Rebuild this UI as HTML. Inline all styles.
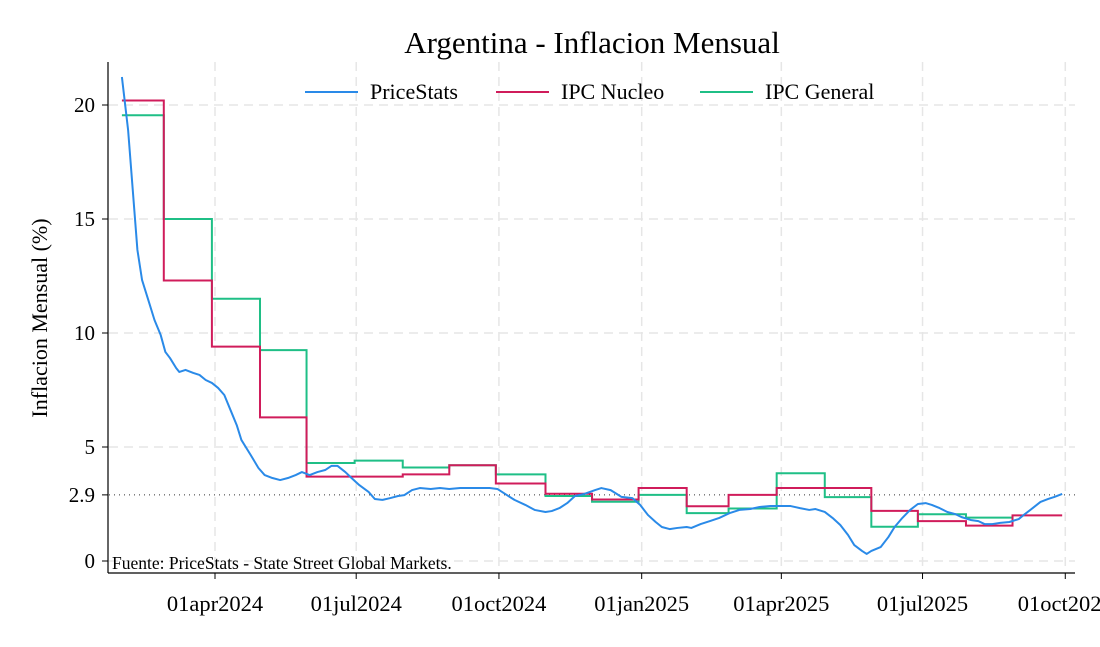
<!DOCTYPE html>
<html><head><meta charset="utf-8"><style>
body{margin:0;background:#fff;}
svg{display:block;font-family:"Liberation Serif",serif;}
</style></head><body>
<svg id="c" width="1100" height="647"></svg>
<script>
const priceDays=[-60,-56,-53,-50,-47,-43,-39,-35,-32,-29,-25,-23,-19,-14,-10,-6,-2,2,6,10,14,17,23,28,32,37,42,47,52,56,61,66,71,75,79,84,88,93,99,103,108,113,118,122,127,132,139,145,151,158,164,171,177,182,187,193,200,206,213,217,222,227,232,238,245,249,255,259,262,269,274,279,284,288,293,298,304,307,313,319,325,332,338,345,351,358,364,371,377,383,387,393,398,403,408,412,417,420,423,429,434,438,443,448,453,458,462,467,472,477,481,487,492,496,501,506,512,518,522,527,532,537,541,546];
const priceVals=[21.23,18.9,16.27,13.64,12.32,11.45,10.57,9.91,9.17,8.9,8.46,8.29,8.38,8.25,8.16,7.94,7.81,7.59,7.28,6.62,5.96,5.31,4.65,4.08,3.77,3.64,3.55,3.64,3.77,3.9,3.77,3.9,3.99,4.17,4.17,3.9,3.64,3.33,3.03,2.72,2.68,2.76,2.85,2.89,3.11,3.2,3.16,3.2,3.16,3.2,3.2,3.2,3.2,3.16,2.94,2.68,2.46,2.24,2.15,2.19,2.32,2.54,2.85,2.94,3.11,3.2,3.11,2.94,2.81,2.76,2.46,2.02,1.71,1.49,1.4,1.45,1.49,1.45,1.62,1.75,1.89,2.11,2.24,2.28,2.37,2.41,2.41,2.41,2.32,2.24,2.28,2.15,1.89,1.58,1.14,0.7,0.44,0.31,0.44,0.61,1.05,1.49,1.89,2.24,2.5,2.54,2.46,2.32,2.15,2.06,1.93,1.8,1.75,1.62,1.62,1.67,1.71,1.84,2.06,2.32,2.59,2.72,2.81,2.94];
const stepDays=[-60,-33,-2,29,59,90,121,151,181,213,243,273,304,331,362,393,423,453,484,514,546];
const nucleoVals=[20.2,12.3,9.4,6.3,3.7,3.7,3.8,4.2,3.4,2.95,2.7,3.2,2.4,2.9,3.2,3.2,2.2,1.75,1.55,2.0];
const generalVals=[19.55,15.0,11.5,9.25,4.3,4.4,4.1,4.2,3.8,2.85,2.6,2.9,2.1,2.3,3.85,2.8,1.5,2.05,1.9];
const yTicks=[0,2.9,5,10,15,20];
const xTickDays=[0,91,183,275,365,456,548];
const xTickLabels=["01apr2024","01jul2024","01oct2024","01jan2025","01apr2025","01jul2025","01oct2025"];

const NS="http://www.w3.org/2000/svg";
const svg=document.getElementById('c');
const X=d=>215+d*1.5516;
const Y=v=>561-v*22.8;
function el(t,a,p){const e=document.createElementNS(NS,t);for(const k in a)e.setAttribute(k,a[k]);(p||svg).appendChild(e);return e;}

yTicks.forEach(v=>{if(v===2.9)return;
 const g=el('line',{x1:109,x2:1075,y1:Y(v),y2:Y(v),stroke:'#e6e6e6','stroke-width':1.5,'stroke-dasharray':'9,6'});
 
 });
xTickDays.forEach(d=>{
 const g=el('line',{x1:X(d),x2:X(d),y1:62,y2:572,stroke:'#e6e6e6','stroke-width':1.5,'stroke-dasharray':'9,6'});
 
 });
const ref=el('line',{x1:109,x2:1075,y1:Y(2.9),y2:Y(2.9),stroke:'#333','stroke-width':1,'stroke-dasharray':'1,4'});



const ya=el('line',{x1:108,x2:108,y1:62,y2:573,stroke:'#000','stroke-width':1.2});


const xa=el('line',{x1:108,x2:1075,y1:573,y2:573,stroke:'#000','stroke-width':1.2});


yTicks.forEach(v=>{
 el('line',{x1:102,x2:108,y1:Y(v),y2:Y(v),stroke:'#000'});
 const t=el('text',{x:95,y:Y(v)+7,'text-anchor':'end','font-size':21});
 t.textContent=String(v);
 
 });
xTickDays.forEach((d,i)=>{
 el('line',{x1:X(d),x2:X(d),y1:573,y2:579,stroke:'#000'});
 const t=el('text',{x:X(d),y:611,'text-anchor':'middle','font-size':22.5});
 t.textContent=xTickLabels[i];
 
 });

function stepPath(vals){let s='';vals.forEach((v,i)=>{s+=(i?'L':'M')+X(stepDays[i])+','+Y(v)+'L'+X(stepDays[i+1])+','+Y(v);});return s;}
const gen=el('path',{d:stepPath(generalVals),fill:'none',stroke:'#1fbf86','stroke-width':2});


const nuc=el('path',{d:stepPath(nucleoVals),fill:'none',stroke:'#d01c5b','stroke-width':2});


const ps=el('path',{d:priceDays.map((d,i)=>(i?'L':'M')+X(d)+','+Y(priceVals[i])).join(''),fill:'none',stroke:'#2a8ae8','stroke-width':2,'stroke-linejoin':'round'});



const title=el('text',{x:592,y:53,'text-anchor':'middle','font-size':31});
title.textContent='Argentina - Inflacion Mensual';


const yt=el('text',{x:0,y:0,'text-anchor':'middle','font-size':22,transform:'translate(47,318) rotate(-90)'});
yt.textContent='Inflacion Mensual (%)';


const src=el('text',{x:112,y:569,'font-size':17.5});
src.textContent='Fuente: PriceStats - State Street Global Markets.';



const legend=[['PriceStats','#2a8ae8',305],['IPC Nucleo','#d01c5b',496],['IPC General','#1fbf86',700]];
legend.forEach(l=>{
 const g=el('g',{});
 
 
 el('line',{x1:l[2],x2:l[2]+53,y1:92,y2:92,stroke:l[1],'stroke-width':2},g);
 const t=el('text',{x:l[2]+65,y:99,'font-size':22},g);t.textContent=l[0];
});
</script>
</body></html>
